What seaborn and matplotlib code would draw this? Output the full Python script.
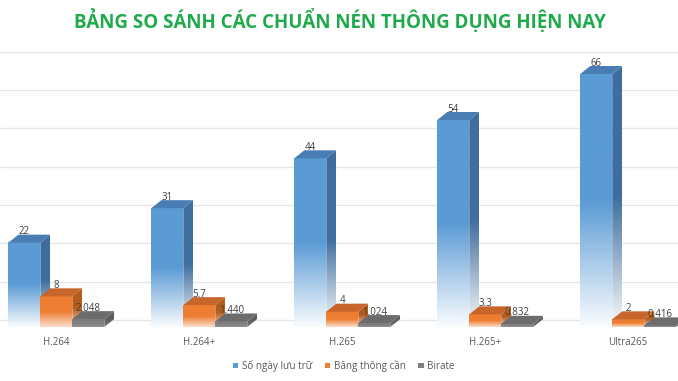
import numpy as np
import pandas as pd
import matplotlib
matplotlib.use("Agg")
import matplotlib.pyplot as plt
import seaborn as sns
from matplotlib.patches import Polygon, Patch
from matplotlib.colors import to_rgb
from matplotlib.transforms import ScaledTranslation

# ---- data ----
categories = ["H.264", "H.264+", "H.265", "H.265+", "Ultra265"]
series = ["Số ngày lưu trữ", "Băng thông cần", "Birate"]
storage_days = [22, 31, 44, 54, 66]
bandwidth = [8, 5.7, 4, 3.3, 2]
bitrate = [2.048, 1.440, 1.024, 0.832, 0.416]
storage_labels = ["22", "31", "44", "54", "66"]
bandwidth_labels = ["8", "5.7", "4", "3.3", "2"]
bitrate_labels = ["2.048", "1.440", "1.024", "0.832", "0.416"]

values = [storage_days, bandwidth, bitrate]
labels = [storage_labels, bandwidth_labels, bitrate_labels]

df = pd.DataFrame({
    "cat": categories * 3,
    "series": [s for s in series for _ in categories],
    "val": storage_days + bandwidth + bitrate,
})

front_colors = ["#5b9bd5", "#ed7d31", "#7f7f7f"]
side_colors = ["#3e6e9e", "#b45c1c", "#5e5e5e"]
top_colors = ["#4a7db3", "#c8652a", "#6c6c6c"]
fade_amt = [0.97, 0.75, 0.15]

sns.set_theme(style="white")
plt.rcParams["font.family"] = ["Open Sans", "DejaVu Sans"]

W, H, DPI = 678, 381, 100
fig = plt.figure(figsize=(W / DPI, H / DPI), dpi=DPI)
base_px = 54
ax_h_px = 276
ax = fig.add_axes([0, base_px / H, 1, ax_h_px / H])

sns.barplot(data=df, x="cat", y="val", hue="series", order=categories,
            hue_order=series, palette=front_colors, width=0.671,
            saturation=1, legend=False, errorbar=None, ax=ax)

xlim = (-0.394, 4.348)
ylim = (0, 72)
ax.set_xlim(*xlim)
ax.set_ylim(*ylim)

px_per_x = W / (xlim[1] - xlim[0])
px_per_y = ax_h_px / (ylim[1] - ylim[0])
ddx = 10 / px_per_x
ddy = 8 / px_per_y


def grad(color, fade_start, amt, n=256):
    t = np.linspace(0, 1, n)
    f = np.clip((t - fade_start) / (1 - fade_start), 0, 1) * amt
    rgb = np.array(to_rgb(color))
    arr = rgb[None, :] * (1 - f[:, None]) + f[:, None]
    return arr[:, None, :]


# gridlines on the back wall (shifted by the depth)
off = ScaledTranslation(0, 7 / DPI, fig.dpi_scale_trans)
for v in range(0, 80, 10):
    ax.plot([0, 1], [v, v], transform=ax.get_yaxis_transform() + off,
            color="#e6e6e6", lw=1.0, zorder=0.5, clip_on=False)

z = 2.0
for j in range(len(categories)):
    for i, cont in enumerate(ax.containers):
        bar = cont.patches[j]
        bar.set_visible(False)
        x0 = bar.get_x()
        w = bar.get_width()
        h = bar.get_height()
        x1 = x0 + w
        # front face
        ax.imshow(grad(front_colors[i], 0.5, fade_amt[i]),
                  extent=[x0, x1, 0, h], aspect="auto",
                  interpolation="bilinear", zorder=z)
        # side face
        side = Polygon([(x1, 0), (x1 + ddx, ddy), (x1 + ddx, h + ddy), (x1, h)],
                       closed=True, transform=ax.transData)
        im = ax.imshow(grad(side_colors[i], 0.5, fade_amt[i]),
                       extent=[x1, x1 + ddx, 0, h + ddy], aspect="auto",
                       interpolation="bilinear", zorder=z)
        im.set_clip_path(side)
        # top face
        ax.add_patch(Polygon([(x0, h), (x0 + ddx, h + ddy), (x1 + ddx, h + ddy), (x1, h)],
                             closed=True, facecolor=top_colors[i],
                             edgecolor="none", zorder=z + 0.01))
        # label
        ax.annotate(labels[i][j], xy=(x0 + w / 2, h), xytext=(0, 11),
                    textcoords="offset pixels", ha="center", va="center",
                    fontsize=7, color="#404040", zorder=10)
        z += 0.05

ax.set_xlim(*xlim)
ax.set_ylim(*ylim)
ax.set_xlabel("")
ax.set_ylabel("")
ax.set_yticks([])
for s in ax.spines.values():
    s.set_visible(False)
ax.tick_params(axis="x", length=0, pad=7, labelsize=7, labelcolor="#595959")

handles = [Patch(facecolor=c, edgecolor="none") for c in front_colors]
fig.legend(handles, series, loc="center", bbox_to_anchor=(0.507, 15 / H),
           ncol=3, frameon=False, fontsize=7.1, labelcolor="#595959",
           handlelength=0.55, handleheight=0.55, handletextpad=0.35,
           columnspacing=1.3)

fig.text(0.502, 1 - 20.5 / H, "BẢNG SO SÁNH CÁC CHUẨN NÉN THÔNG DỤNG HIỆN NAY",
         ha="center", va="center", fontsize=13.5, fontweight="bold",
         color="#1fab4c")

fig.savefig("out.png", dpi=DPI)
